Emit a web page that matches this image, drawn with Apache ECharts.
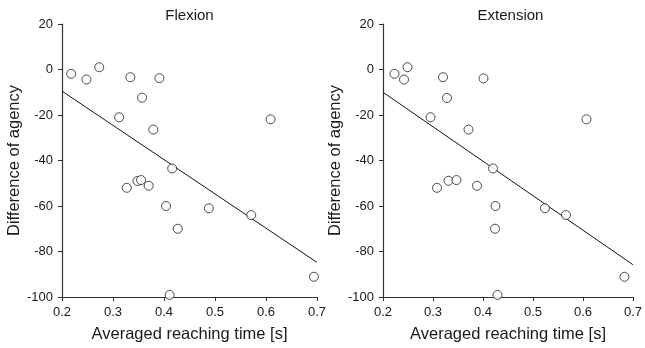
<!DOCTYPE html>
<html>
<head>
<meta charset="utf-8">
<script src="https://cdn.jsdelivr.net/npm/echarts@6/dist/echarts.min.js"></script>
<style>html,body{margin:0;padding:0;background:#fff}#c{width:645px;height:348px}</style>
</head>
<body>
<div id="c"></div>
<script>
var panelTitles = ['Flexion', 'Extension'];
var xTitle = 'Averaged reaching time [s]';
var yTitle = 'Difference of agency';
var flexionPoints = [
  [0.218,-1.9],[0.248,-4.4],[0.273,1.0],[0.334,-3.4],[0.391,-3.8],[0.357,-12.4],
  [0.312,-21],[0.379,-26.4],[0.609,-21.9],[0.416,-43.5],[0.327,-52],[0.348,-49],
  [0.355,-48.6],[0.370,-51.1],[0.404,-60],[0.488,-61],[0.427,-70],[0.571,-64],
  [0.694,-91.1],[0.411,-99.1]
];
var extensionPoints = [
  [0.223,-1.9],[0.242,-4.4],[0.249,1.0],[0.320,-3.4],[0.401,-3.9],[0.328,-12.5],
  [0.295,-21],[0.371,-26.4],[0.607,-21.9],[0.420,-43.5],[0.308,-52],[0.331,-48.9],
  [0.347,-48.6],[0.388,-51.1],[0.425,-60],[0.524,-61],[0.424,-70],[0.566,-64],
  [0.683,-91.1],[0.429,-99.1]
];
var flexionFit = [[0.2,-9.5],[0.7,-84.8]];
var extensionFit = [[0.2,-10],[0.7,-85.8]];

var chart = echarts.init(document.getElementById('c'), null, {renderer:'canvas'});
var font = 'Liberation Sans, Arial, sans-serif';
var txt = '#1a1a1a';
var grids = [
  {left:62, top:24, width:255, height:275},
  {left:383, top:24, width:255, height:275}
];
function xAx(i){
  return {gridIndex:i, type:'value', min:0.2, max:0.7, interval:0.1,
    name:xTitle, nameLocation:'middle', nameGap:29,
    nameTextStyle:{fontSize:16.5, color:txt, fontFamily:font},
    axisLine:{onZero:false, lineStyle:{color:'#333', width:1.2}},
    axisTick:{length:4, lineStyle:{color:'#333'}},
    axisLabel:{fontSize:13, color:txt, fontFamily:font, margin:9,
      formatter:function(v){return v.toFixed(1);}},
    splitLine:{show:false}};
}
function yAx(i){
  return {gridIndex:i, type:'value', min:-100, max:20, interval:20,
    name:yTitle, nameLocation:'middle', nameGap:38,
    nameTextStyle:{fontSize:16.5, color:txt, fontFamily:font},
    axisLine:{show:true, onZero:false, lineStyle:{color:'#333', width:1.2}},
    axisTick:{show:true, length:4, lineStyle:{color:'#333'}},
    axisLabel:{fontSize:13, color:txt, fontFamily:font, margin:9},
    splitLine:{show:false}};
}
function scat(i, d){
  return {type:'scatter', xAxisIndex:i, yAxisIndex:i, data:d, symbol:'circle', symbolSize:9,
    itemStyle:{color:'#fff', borderColor:'#222', borderWidth:1}, z:3};
}
function fit(i, d){
  return {type:'line', xAxisIndex:i, yAxisIndex:i, data:d, symbol:'none',
    lineStyle:{color:'#111', width:1}, z:2};
}
function ttl(t, x){
  return {type:'text', x:x, y:15.5, style:{text:t, fontSize:15, fontFamily:font, fill:txt,
    textAlign:'center', textVerticalAlign:'middle', align:'center', verticalAlign:'middle'}};
}
chart.setOption({
  animation:false,
  backgroundColor:'#fff',
  graphic:[ttl(panelTitles[0], 189.5), ttl(panelTitles[1], 510.5)],
  grid:grids,
  xAxis:[xAx(0), xAx(1)],
  yAxis:[yAx(0), yAx(1)],
  series:[scat(0, flexionPoints), fit(0, flexionFit), scat(1, extensionPoints), fit(1, extensionFit)]
});
</script>
</body>
</html>
